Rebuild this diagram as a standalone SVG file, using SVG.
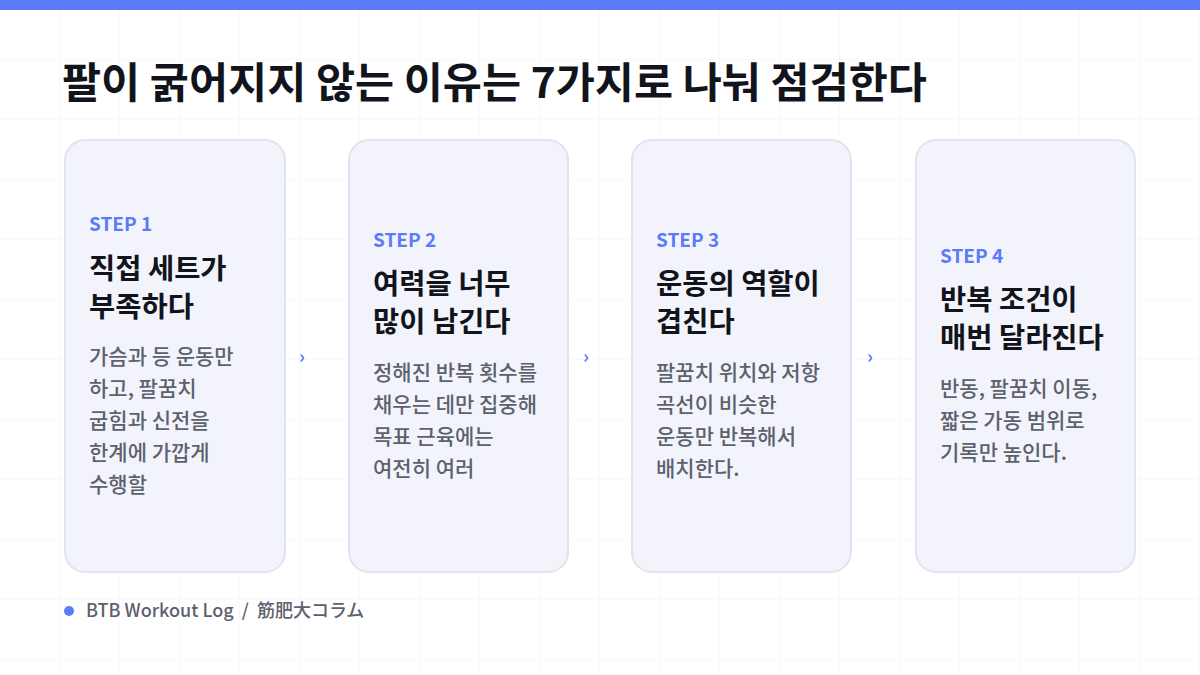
<svg xmlns="http://www.w3.org/2000/svg" width="1200" height="675" viewBox="0 0 1200 675">
<defs>
<pattern id="grid" width="60" height="60" patternUnits="userSpaceOnUse"><path d="M60 0V60M0 60H60" fill="none" stroke="#f2f3f7" stroke-width="1"/></pattern>
</defs>
<style>
text{font-family:"Noto Sans CJK KR","Noto Sans",sans-serif}
.card{fill:#f3f4fb;stroke:#e0e4ef;stroke-width:2}
.step{fill:#5b7cf6;font-size:19px;font-weight:700}
.ttl{fill:#12141c;font-size:28.5px;font-weight:700}
.body{fill:#5c616e;font-size:21px;font-weight:500}
.arr{fill:#5b7cf6;font-size:18px;font-weight:700}
</style>
<rect width="1200" height="675" fill="#fff"/>
<rect width="1200" height="675" fill="url(#grid)"/>
<rect width="1200" height="10" fill="#5b7cf6"/>
<text x="62" y="98" font-size="42.5" font-weight="700" fill="#12141c">팔이 굵어지지 않는 이유는 7가지로 나눠 점검한다</text>
<g id="step1"><rect class="card" x="65" y="140" width="220" height="432" rx="20"/>
<text class="step" x="89" y="231">STEP 1</text>
<text class="ttl" x="89" y="279">직접 세트가</text><text class="ttl" x="89" y="317">부족하다</text>
<text class="body" x="89" y="364">가슴과 등 운동만</text><text class="body" x="89" y="396">하고, 팔꿈치</text><text class="body" x="89" y="428">굽힘과 신전을</text><text class="body" x="89" y="460">한계에 가깝게</text><text class="body" x="89" y="492">수행할</text></g>
<g id="step2"><rect class="card" x="349" y="140" width="219" height="432" rx="20"/>
<text class="step" x="373" y="247">STEP 2</text>
<text class="ttl" x="373" y="294">여력을 너무</text><text class="ttl" x="373" y="332">많이 남긴다</text>
<text class="body" x="373" y="380">정해진 반복 횟수를</text><text class="body" x="373" y="412">채우는 데만 집중해</text><text class="body" x="373" y="444">목표 근육에는</text><text class="body" x="373" y="476">여전히 여러</text></g>
<g id="step3"><rect class="card" x="632" y="140" width="219" height="432" rx="20"/>
<text class="step" x="656" y="247">STEP 3</text>
<text class="ttl" x="656" y="294">운동의 역할이</text><text class="ttl" x="656" y="332">겹친다</text>
<text class="body" x="656" y="380">팔꿈치 위치와 저항</text><text class="body" x="656" y="412">곡선이 비슷한</text><text class="body" x="656" y="444">운동만 반복해서</text><text class="body" x="656" y="476">배치한다.</text></g>
<g id="step4"><rect class="card" x="916" y="140" width="219" height="432" rx="20"/>
<text class="step" x="940" y="263">STEP 4</text>
<text class="ttl" x="940" y="310">반복 조건이</text><text class="ttl" x="940" y="348">매번 달라진다</text>
<text class="body" x="940" y="396">반동, 팔꿈치 이동,</text><text class="body" x="940" y="428">짧은 가동 범위로</text><text class="body" x="940" y="460">기록만 높인다.</text></g>
<g id="connectors">
<text class="arr" x="299" y="363">›</text><text class="arr" x="583" y="363">›</text><text class="arr" x="867" y="363">›</text>
</g>
<circle cx="69" cy="611" r="5" fill="#5b7cf6"/>
<text x="86" y="617" font-size="18" font-weight="500" fill="#5c616e" xml:space="preserve" font-family="'Noto Sans CJK KR','Noto Sans CJK JP',sans-serif">BTB Workout Log  /  筋肥大コラム</text>
</svg>
